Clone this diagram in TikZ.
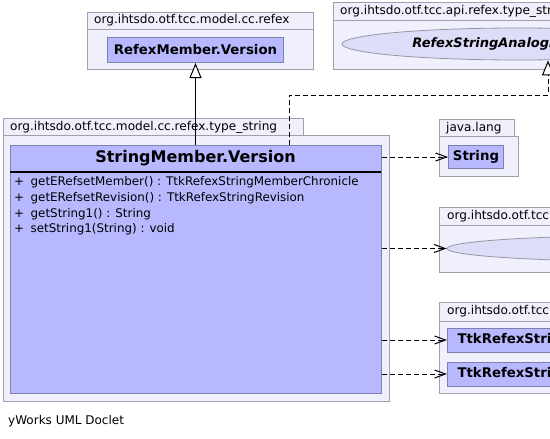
\documentclass[tikz,border=0pt]{standalone}
\usepackage{fontspec}
\setmainfont{DejaVu Sans}
\usetikzlibrary{arrows.meta, shapes.geometric}

\definecolor{pkgfill}{RGB}{240,240,252}
\definecolor{pkgline}{RGB}{160,160,172}
\definecolor{clsfill}{RGB}{184,184,255}
\definecolor{clsline}{RGB}{128,128,176}
\definecolor{iffill}{RGB}{221,221,250}
\definecolor{ifline}{RGB}{150,150,165}

\tikzset{
        pkg/.style={draw=pkgline, fill=pkgfill, line width=1pt},
        pkglabel/.style={anchor=west, inner sep=0pt, font=\fontsize{12.1}{14}\selectfont},
        cls/.style={draw=clsline, fill=clsfill, line width=1pt, inner sep=0pt,
                font=\bfseries\fontsize{13.3}{15}\selectfont},
        iface/.style={ellipse, draw=ifline, fill=iffill, line width=0.8pt, inner sep=0pt,
                font=\bfseries\itshape\fontsize{13}{15}\selectfont},
        method/.style={anchor=west, inner sep=0pt, font=\fontsize{11.9}{14}\selectfont},
        dep/.style={line width=1pt, dash pattern=on 5pt off 3pt,
                -{Straight Barb[length=11pt, width=8pt]}},
        realize/.style={line width=1pt, dash pattern=on 5pt off 3pt,
                -{Triangle[open, length=15pt, width=12pt, fill=white]}},
        inherit/.style={line width=1pt, -{Triangle[open, length=15pt, width=12pt, fill=white]}},
}

\begin{document}
\begin{tikzpicture}[x=1pt, y=-1pt]
        \useasboundingbox (0,0) rectangle (550,439);
        \clip (0,0) rectangle (550,439);
        % package org.ihtsdo.otf.tcc.model.cc.refex
        \draw[pkg] (87,12) rectangle (313,29);
        \draw[pkg] (87,29) rectangle (313,69);
        \node[pkglabel] (refexlabel) at (94,20.5) {org.ihtsdo.otf.tcc.model.cc.refex};
        \node[cls, minimum width=176, minimum height=25, anchor=north west] (rm) at (107,37) {RefexMember.Version};
        % package org.ihtsdo.otf.tcc.api.refex.type_string
        \draw[pkg] (333,2) rectangle (720,20);
        \draw[pkg] (333,20) rectangle (720,69);
        \node[pkglabel] (apilabel) at (340,11) {org.ihtsdo.otf.tcc.api.refex.type\_string};
        \node[iface, minimum width=352, minimum height=32] (ia) at (518,44) {RefexStringAnalogBI.Version};
        % package org.ihtsdo.otf.tcc.model.cc.refex.type_string
        \draw[pkg] (3,118) rectangle (303,135);
        \draw[pkg] (3,135) rectangle (389,401);
        \node[pkglabel] (modellabel) at (10,127) {org.ihtsdo.otf.tcc.model.cc.refex.type\_string};
        \node[cls, minimum width=371, minimum height=248, anchor=north west] (sm) at (10,145) {};
        \node[font=\bfseries\fontsize{16}{19}\selectfont] (smname) at (195.5,158.5) {StringMember.Version};
        \draw[line width=2pt] (10,172) -- (381,172);
        \node[method] (m1) at (14,182) {+\hspace{6.5pt}getERefsetMember() : TtkRefexStringMemberChronicle};
        \node[method] (m2) at (14,198) {+\hspace{6.5pt}getERefsetRevision() : TtkRefexStringRevision};
        \node[method] (m3) at (14,214) {+\hspace{6.5pt}getString1() : String};
        \node[method] (m4) at (14,229.5) {+\hspace{6.5pt}setString1(String) : void};
        % package java.lang
        \draw[pkg] (439,119) rectangle (514,136);
        \draw[pkg] (439,136) rectangle (518,176);
        \node[pkglabel] (javalabel) at (446,128) {java.lang};
        \node[cls, minimum width=55, minimum height=23, anchor=north west] (str) at (448,145) {String};
        % package with the version interface
        \draw[pkg] (439,207) rectangle (760,225);
        \draw[pkg] (439,225) rectangle (760,272);
        \node[pkglabel] (verlabel) at (447,216) {org.ihtsdo.otf.tcc.api.refex.type\_string};
        \node[iface, minimum width=406, minimum height=26] (ib) at (650,248.5) {RefexStringVersionBI};
        % package org.ihtsdo.otf.tcc.dto...
        \draw[pkg] (439,302) rectangle (760,321);
        \draw[pkg] (439,321) rectangle (760,393);
        \node[pkglabel] (dtolabel) at (447,311.5) {org.ihtsdo.otf.tcc.dto.component.refex.type\_string};
        \node[cls, inner xsep=10pt, minimum height=24, anchor=west] (tc1) at (447,340) {TtkRefexStringMemberChronicle};
        \node[cls, inner xsep=10pt, minimum height=24, anchor=west] (tc2) at (447,374) {TtkRefexStringRevision};
        % connectors
        \coordinate (bendA) at (289,95);
        \coordinate (bendB) at (548,95);
        \draw[inherit] (sm.north -| rm.south) -- (rm.south);
        \draw[realize] (sm.north -| bendA) |- (bendB) -- (bendB |- ia.south);
        \draw[dep] (sm.east |- str.west) -- (str.west);
        \draw[dep] (sm.east |- ib.west) -- (ib.west);
        \draw[dep] (sm.east |- tc1.west) -- (tc1.west);
        \draw[dep] (sm.east |- tc2.west) -- (tc2.west);
        \node[anchor=west, inner sep=0pt, font=\fontsize{12}{14}\selectfont] (footer) at (8,421) {yWorks UML Doclet};
\end{tikzpicture}
\end{document}
